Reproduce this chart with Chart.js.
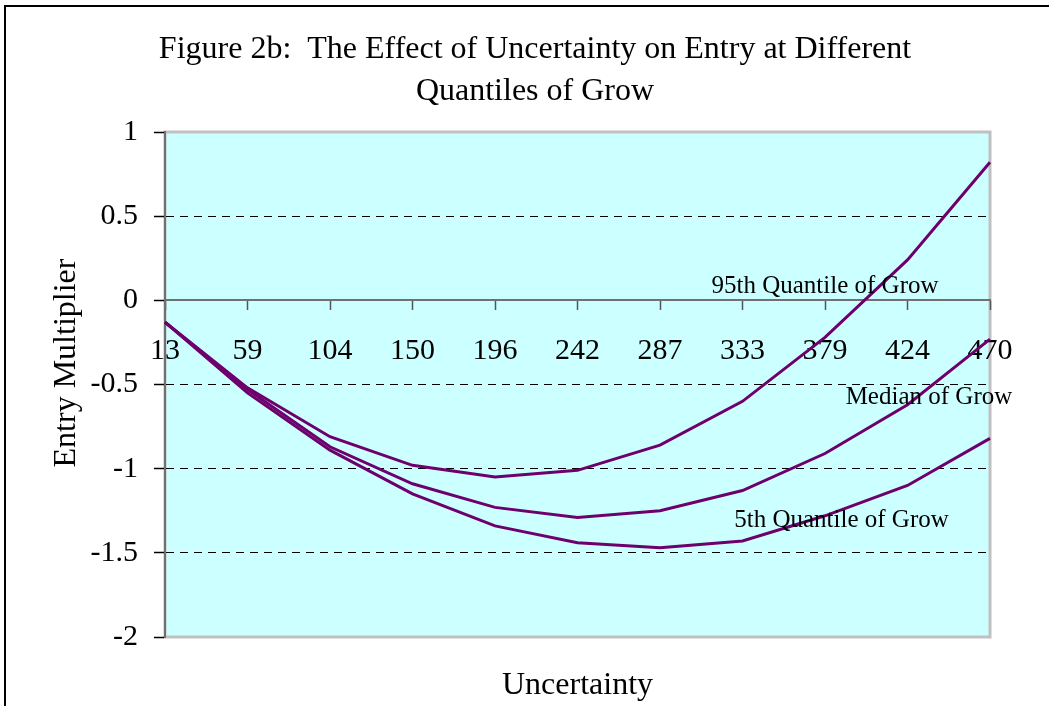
<!DOCTYPE html>
<html>
<head>
<meta charset="utf-8">
<script src="https://cdn.jsdelivr.net/npm/chart.js@4/dist/chart.umd.min.js"></script>
<style>
html,body{margin:0;padding:0;background:#fff;}
#wrap{width:1049px;height:706px;position:relative;}
</style>
</head>
<body>
<div id="wrap"><canvas id="c" width="1049" height="706"></canvas></div>
<script>
// ---- data ----
const categories = ['13','59','104','150','196','242','287','333','379','424','470'];
const q95    = [-0.13,-0.52,-0.81,-0.98,-1.05,-1.01,-0.86,-0.60,-0.22,0.24,0.82];
const median = [-0.13,-0.53,-0.87,-1.09,-1.23,-1.29,-1.25,-1.13,-0.91,-0.62,-0.23];
const q5     = [-0.13,-0.55,-0.89,-1.15,-1.34,-1.44,-1.47,-1.43,-1.28,-1.10,-0.82];
const yTicks = [1, 0.5, 0, -0.5, -1, -1.5, -2];
const titleLines = ['Figure 2b:  The Effect of Uncertainty on Entry at Different', 'Quantiles of Grow'];
const xTitle = 'Uncertainty';
const yTitle = 'Entry Multiplier';
const seriesNames = ['95th Quantile of Grow', 'Median of Grow', '5th Quantile of Grow'];
// label anchors (category index, value)
const labelAnchors = [[8.0, 0.08], [9.26, -0.575], [8.2, -1.305]];

const SERIF = "'Liberation Serif', 'Times New Roman', serif";
const LINE = '#6E006E';

const decor = {
  id: 'decor',
  beforeDraw(chart) {
    const {ctx, chartArea: a} = chart;
    ctx.save();
    ctx.fillStyle = '#fff';
    ctx.fillRect(0, 0, chart.width, chart.height);
    ctx.fillStyle = '#CCFFFF';
    ctx.fillRect(a.left, a.top, a.right - a.left, a.bottom - a.top);
    ctx.strokeStyle = '#C0C0C0';
    ctx.lineWidth = 3;
    ctx.strokeRect(a.left, a.top, a.right - a.left, a.bottom - a.top);
    // outer frame
    ctx.fillStyle = '#000';
    ctx.fillRect(4, 5, 2, chart.height - 5);
    ctx.fillRect(4, 5, chart.width - 4, 2);
    ctx.restore();
  },
  afterDraw(chart) {
    const {ctx, chartArea: a, scales} = chart;
    ctx.save();
    ctx.fillStyle = '#000';
    ctx.textAlign = 'center';
    ctx.textBaseline = 'alphabetic';
    ctx.font = '32px ' + SERIF;
    ctx.fillText(titleLines[0], 535, 58);
    ctx.fillText(titleLines[1], 535, 100);
    ctx.fillText(xTitle, (a.left + a.right) / 2, 694);
    ctx.textBaseline = 'middle';
    ctx.save();
    ctx.translate(67, 363);
    ctx.rotate(-Math.PI / 2);
    ctx.fillText(yTitle, 0, 0);
    ctx.restore();
    ctx.font = '25px ' + SERIF;
    seriesNames.forEach((t, i) => {
      const [ix, v] = labelAnchors[i];
      ctx.fillText(t, scales.x.getPixelForValue(ix), scales.y.getPixelForValue(v));
    });
    ctx.restore();
  }
};

new Chart(document.getElementById('c'), {
  type: 'line',
  data: {
    labels: categories,
    datasets: [
      {label: seriesNames[0], data: q95},
      {label: seriesNames[1], data: median},
      {label: seriesNames[2], data: q5}
    ].map(d => Object.assign(d, {borderColor: LINE, borderWidth: 3, pointRadius: 0, tension: 0, fill: false}))
  },
  options: {
    responsive: false,
    animation: false,
    layout: {padding: {left: 44, top: 132, right: 59, bottom: 69}},
    plugins: {legend: {display: false}, title: {display: false}, tooltip: {enabled: false}},
    scales: {
      x: {
        type: 'category',
        position: {y: 0},
        offset: false,
        grid: {drawOnChartArea: false, drawTicks: true, tickLength: 9, tickColor: '#555', tickWidth: 1.5},
        border: {display: true, color: '#707070', width: 2},
        ticks: {color: '#000', font: {family: SERIF, size: 30}, padding: 24, autoSkip: false, maxRotation: 0}
      },
      y: {
        min: -2, max: 1,
        afterBuildTicks(s) { s.ticks = yTicks.map(v => ({value: v})); },
        afterFit(s) { s.width = 121; },
        grid: {
          color: c => (c.tick && [0.5, -0.5, -1, -1.5].includes(c.tick.value)) ? '#000' : 'rgba(0,0,0,0)',
          lineWidth: 1,
          tickColor: '#000', tickLength: 11, tickWidth: 1.5
        },
        border: {display: true, color: '#707070', width: 2, dash: [8, 6]},
        ticks: {color: '#000', font: {family: SERIF, size: 30}, padding: 16, callback: v => String(v)}
      }
    }
  },
  plugins: [decor]
});
</script>
</body>
</html>
